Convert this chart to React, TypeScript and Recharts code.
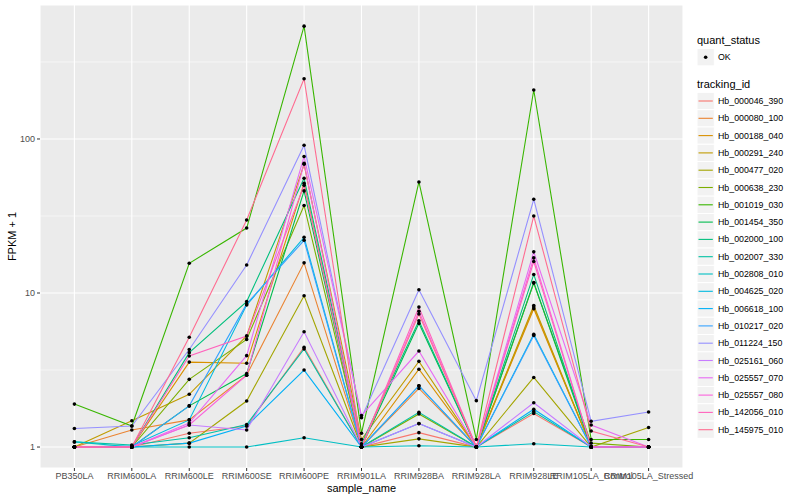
import { LineChart, Line, XAxis, YAxis, CartesianGrid, ReferenceLine } from 'recharts'

const samples = [
  'PB350LA',
  'RRIM600LA',
  'RRIM600LE',
  'RRIM600SE',
  'RRIM600PE',
  'RRIM901LA',
  'RRIM928BA',
  'RRIM928LA',
  'RRIM928LE',
  'RRIM105LA_Control',
  'RRIM105LA_Stressed',
]

const trackingIds = [
  'Hb_000046_390',
  'Hb_000080_100',
  'Hb_000188_040',
  'Hb_000291_240',
  'Hb_000477_020',
  'Hb_000638_230',
  'Hb_001019_030',
  'Hb_001454_350',
  'Hb_002000_100',
  'Hb_002007_330',
  'Hb_002808_010',
  'Hb_004625_020',
  'Hb_006618_100',
  'Hb_010217_020',
  'Hb_011224_150',
  'Hb_025161_060',
  'Hb_025557_070',
  'Hb_025557_080',
  'Hb_142056_010',
  'Hb_145975_010',
]

// ggplot default hue palette for 20 levels
const colors = [
  '#F8766D', '#EA8331', '#D89000', '#C09B00', '#A3A500',
  '#7CAE00', '#39B600', '#00BB4E', '#00BF7D', '#00C1A3',
  '#00BFC4', '#00BAE0', '#00B0F6', '#35A2FF', '#9590FF',
  '#C77CFF', '#E76BF3', '#FA62DB', '#FF62BC', '#FF6C91',
]

// FPKM + 1, one row per tracking id, one value per sample
const fpkm: number[][] = [
  [1.0, 1.0, 1.23, 1.37, 4.44, 1.0, 1.24, 1.0, 1.65, 1.0, 1.0],
  [1.0, 1.29, 1.5, 2.93, 15.7, 1.0, 2.4, 1.0, 8.1, 1.0, 1.0],
  [1.0, 1.0, 3.56, 3.5, 51.5, 1.0, 3.2, 1.0, 7.9, 1.0, 1.0],
  [1.0, 1.48, 2.2, 5.26, 68.5, 1.12, 3.6, 1.0, 8.3, 1.0, 1.0],
  [1.0, 1.0, 1.06, 1.99, 9.6, 1.0, 1.13, 1.0, 2.83, 1.0, 1.34],
  [1.0, 1.0, 2.75, 5.0, 37, 1.0, 1.64, 1.0, 11.6, 1.06, 1.0],
  [1.9, 1.37, 15.6, 26.4, 540, 1.23, 52.6, 1.12, 208, 1.12, 1.12],
  [1.0, 1.0, 1.85, 3.0, 46, 1.0, 6.35, 1.0, 11.7, 1.0, 1.0],
  [1.0, 1.0, 4.1, 8.8, 55.6, 1.05, 6.6, 1.0, 13.2, 1.0, 1.0],
  [1.08, 1.03, 1.15, 1.4, 4.33, 1.0, 1.68, 1.0, 1.7, 1.0, 1.0],
  [1.08, 1.0, 1.0, 1.0, 1.15, 1.0, 1.02, 1.0, 1.05, 1.0, 1.0],
  [1.0, 1.02, 1.5, 8.35, 23, 1.0, 2.5, 1.0, 5.4, 1.0, 1.0],
  [1.0, 1.0, 1.06, 1.37, 3.16, 1.0, 1.42, 1.0, 1.76, 1.0, 1.0],
  [1.0, 1.0, 1.85, 8.5, 22, 1.0, 2.5, 1.0, 5.3, 1.0, 1.0],
  [1.32, 1.37, 4.3, 15.2, 91, 1.55, 10.5, 2.0, 40.6, 1.47, 1.69],
  [1.0, 1.0, 1.39, 1.29, 5.6, 1.0, 1.42, 1.0, 1.94, 1.0, 1.0],
  [1.0, 1.0, 1.43, 3.92, 77, 1.6, 4.2, 1.0, 18.5, 1.39, 1.0],
  [1.0, 1.0, 1.39, 2.93, 69.5, 1.0, 7.6, 1.0, 16.9, 1.0, 1.0],
  [1.0, 1.0, 3.9, 5.26, 50, 1.0, 8.1, 1.0, 16, 1.0, 1.0],
  [1.0, 1.0, 5.16, 29.8, 246, 1.0, 7.3, 1.0, 31.6, 1.27, 1.0],
]

const yTicks = [1, 10, 100]
const yMinor = [3.1623, 31.623, 316.23]

const data = samples.map((sample, i) => {
  const row: Record<string, string | number> = { sample }
  trackingIds.forEach((id, j) => {
    row[id] = fpkm[j][i]
  })
  return row
})

const font = '"Liberation Sans", Arial, Helvetica, sans-serif'

const Legend = () => {
  const x0 = 697
  const key = 17.3
  return (
    <svg
      width={800}
      height={500}
      style={{ position: 'absolute', left: 0, top: 0, pointerEvents: 'none' }}
      fontFamily={font}
    >
      <text x={x0} y={40} fontSize={11} dominantBaseline="central" fill="#000">
        quant_status
      </text>
      <rect x={x0} y={57.2 - key / 2} width={key} height={key} fill="#F2F2F2" stroke="#fff" />
      <circle cx={x0 + key / 2} cy={57.2} r={1.8} fill="#000" />
      <text x={718} y={57.2} fontSize={8.8} dominantBaseline="central" fill="#000">
        OK
      </text>
      <text x={x0} y={84} fontSize={11} dominantBaseline="central" fill="#000">
        tracking_id
      </text>
      {trackingIds.map((id, i) => {
        const cy = 101 + i * 17.3
        return (
          <g key={id}>
            <rect x={x0} y={cy - key / 2} width={key} height={key} fill="#F2F2F2" stroke="#fff" />
            <line x1={x0 + 1.5} x2={x0 + key - 1.5} y1={cy} y2={cy} stroke={colors[i]} strokeWidth={1.1} />
            <text x={718} y={cy} fontSize={8.8} dominantBaseline="central" fill="#000">
              {id}
            </text>
          </g>
        )
      })}
    </svg>
  )
}

export default function App() {
  return (
    <div
      style={{
        position: 'absolute',
        left: 0,
        top: 0,
        width: 800,
        height: 500,
        background: '#fff',
        fontFamily: font,
      }}
    >
      <LineChart
        width={800}
        height={500}
        data={data}
        margin={{ top: 5, right: 117, bottom: 0, left: 0 }}
      >
        <CartesianGrid fill="#EBEBEB" stroke="#FFFFFF" strokeWidth={1.1} />
        {yMinor.map((v) => (
          <ReferenceLine key={v} y={v} stroke="#FFFFFF" strokeWidth={0.55} />
        ))}
        <XAxis
          dataKey="sample"
          scale="point"
          interval={0}
          padding={{ left: 34.4, right: 34.4 }}
          height={32}
          tickSize={3}
          tickMargin={2}
          axisLine={false}
          tickLine={{ stroke: '#333333' }}
          tick={{ fontSize: 9, fill: '#4D4D4D' }}
          label={{ value: 'sample_name', position: 'insideBottom', offset: 8, fontSize: 11, fill: '#000' }}
        />
        <YAxis
          type="number"
          scale="log"
          domain={[0.731, 741]}
          allowDataOverflow
          ticks={yTicks}
          width={40}
          tickSize={3}
          tickMargin={2}
          axisLine={false}
          tickLine={{ stroke: '#333333' }}
          tick={{ fontSize: 9, fill: '#4D4D4D' }}
          label={{
            value: 'FPKM + 1',
            angle: -90,
            position: 'insideLeft',
            offset: 12,
            fontSize: 11,
            fill: '#000',
            style: { textAnchor: 'middle' },
          }}
        />
        {trackingIds.map((id, i) => (
          <Line
            key={id}
            dataKey={id}
            type="linear"
            stroke={colors[i]}
            strokeWidth={1.1}
            dot={false}
            activeDot={false}
            isAnimationActive={false}
          />
        ))}
        {trackingIds.map((id) => (
          <Line
            key={`${id}-pts`}
            dataKey={id}
            type="linear"
            stroke="none"
            dot={{ r: 1.8, fill: '#000', stroke: 'none' }}
            activeDot={false}
            legendType="none"
            isAnimationActive={false}
          />
        ))}
      </LineChart>
      <Legend />
    </div>
  )
}
